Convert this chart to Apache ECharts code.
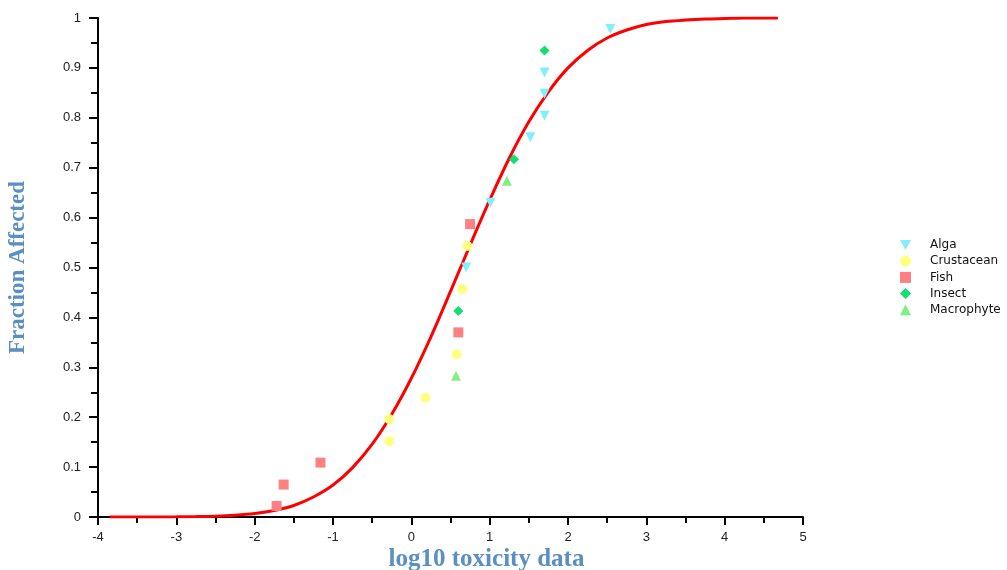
<!DOCTYPE html>
<html>
<head>
<meta charset="utf-8">
<script src="https://cdn.jsdelivr.net/npm/echarts@6/dist/echarts.min.js"></script>
<style>
  html, body { margin: 0; padding: 0; background: #fff; }
  #chart { width: 1007px; height: 570px; }
</style>
</head>
<body>
<div id="chart"></div>
<script>
// species sensitivity points: [log10 toxicity, fraction affected]
const algaPts = [[0.70, 0.500], [1.01, 0.630], [1.52, 0.761], [1.70, 0.804], [1.70, 0.848], [1.70, 0.891], [2.54, 0.978]];
const crustaceanPts = [[-0.28, 0.152], [-0.28, 0.196], [0.18, 0.239], [0.58, 0.326], [0.65, 0.457], [0.715, 0.543]];
const fishPts = [[-1.72, 0.022], [-1.63, 0.065], [-1.16, 0.109], [0.60, 0.370], [0.75, 0.587]];
const insectPts = [[0.60, 0.413], [1.31, 0.717], [1.70, 0.935]];
const macrophytePts = [[0.57, 0.283], [1.22, 0.674]];

// fitted curve
const curveX = [-3.85, -3.5, -3.25, -3.0, -2.75, -2.5, -2.25, -2.0, -1.75, -1.5, -1.25, -1.0, -0.75, -0.5, -0.25,
  0.0, 0.25, 0.5, 0.75, 1.0, 1.25, 1.5, 1.75, 2.0, 2.25, 2.5, 2.75, 3.0, 3.25, 3.5, 3.75, 4.0, 4.25, 4.5, 4.68];
const curveY = [0.0, 0.0001, 0.0001, 0.0003, 0.0008, 0.0017, 0.0036, 0.007, 0.013, 0.023, 0.040, 0.064, 0.099, 0.146, 0.206,
  0.278, 0.361, 0.452, 0.545, 0.635, 0.719, 0.792, 0.852, 0.900, 0.935, 0.960, 0.976, 0.987, 0.993, 0.996, 0.998, 0.999, 1.0, 1.0, 1.0];

const labelBlue = "#5a8fc2";

const chart = echarts.init(document.getElementById("chart"));

const scatter = (name, data, symbol, color, size) => ({
  name: name,
  type: "scatter",
  data: data,
  symbol: symbol,
  symbolSize: size,
  itemStyle: { color: color, opacity: 1 },
  z: 3,
});

const option = {
  animation: false,
  backgroundColor: "#fff",
  grid: { left: 98, right: 204, top: 18, bottom: 53, outerBoundsMode: "none" },
  legend: {
    orient: "vertical",
    left: 895,
    top: 234,
    itemWidth: 11,
    itemHeight: 11,
    itemGap: 4.2,
    textStyle: { fontFamily: "DejaVu Sans", fontSize: 12, color: "#111", padding: [0, 0, 0, 14] },
    data: [
      { name: "Alga", icon: "path://M0,0 L10,0 L5,9 Z" },
      { name: "Crustacean", icon: "circle" },
      { name: "Fish", icon: "rect" },
      { name: "Insect", icon: "diamond" },
      { name: "Macrophyte", icon: "triangle" },
    ],
  },
  xAxis: {
    type: "value",
    min: -4,
    max: 5,
    interval: 1,
    name: "log10 toxicity data",
    nameLocation: "middle",
    nameGap: 30,
    nameMoveOverlap: false,
    nameTextStyle: {
      fontFamily: "Liberation Serif",
      fontWeight: "bold",
      fontSize: 25,
      color: labelBlue,
      padding: [0, 0, 0, 72],
    },
    axisLine: { onZero: false, lineStyle: { color: "#000", width: 2 } },
    axisTick: { length: 8, lineStyle: { color: "#000", width: 2 } },
    minorTick: { show: true, splitNumber: 2, length: 6, lineStyle: { color: "#000", width: 2 } },
    axisLabel: { fontFamily: "Liberation Sans", fontSize: 13, color: "#222", margin: 14 },
    splitLine: { show: false },
  },
  yAxis: {
    type: "value",
    min: 0,
    max: 1,
    interval: 0.1,
    name: "Fraction Affected",
    nameLocation: "middle",
    nameGap: 68,
    nameMoveOverlap: false,
    nameTextStyle: {
      fontFamily: "Liberation Serif",
      fontWeight: "bold",
      fontSize: 23,
      color: labelBlue,
    },
    axisLine: { show: true, onZero: false, lineStyle: { color: "#000", width: 2 } },
    axisTick: { show: true, length: 9, lineStyle: { color: "#000", width: 2 } },
    minorTick: { show: true, splitNumber: 2, length: 7, lineStyle: { color: "#000", width: 2 } },
    axisLabel: { fontFamily: "Liberation Sans", fontSize: 13, color: "#222", margin: 17 },
    splitLine: { show: false },
  },
  series: [
    {
      name: "Fit",
      type: "line",
      data: curveX.map((x, i) => [x, curveY[i]]),
      smooth: 0.3,
      showSymbol: false,
      lineStyle: { color: "#ff0000", width: 3 },
      z: 2,
    },
    scatter("Alga", algaPts, "path://M0,0 L10,0 L5,9 Z", "#80f0ff", 10),
    scatter("Crustacean", crustaceanPts, "circle", "#ffff80", 10),
    scatter("Fish", fishPts, "rect", "#ff8080", 10),
    scatter("Insect", insectPts, "diamond", "#10e070", 10),
    scatter("Macrophyte", macrophytePts, "triangle", "#80f080", 10),
  ],
};

chart.setOption(option);
</script>
</body>
</html>
